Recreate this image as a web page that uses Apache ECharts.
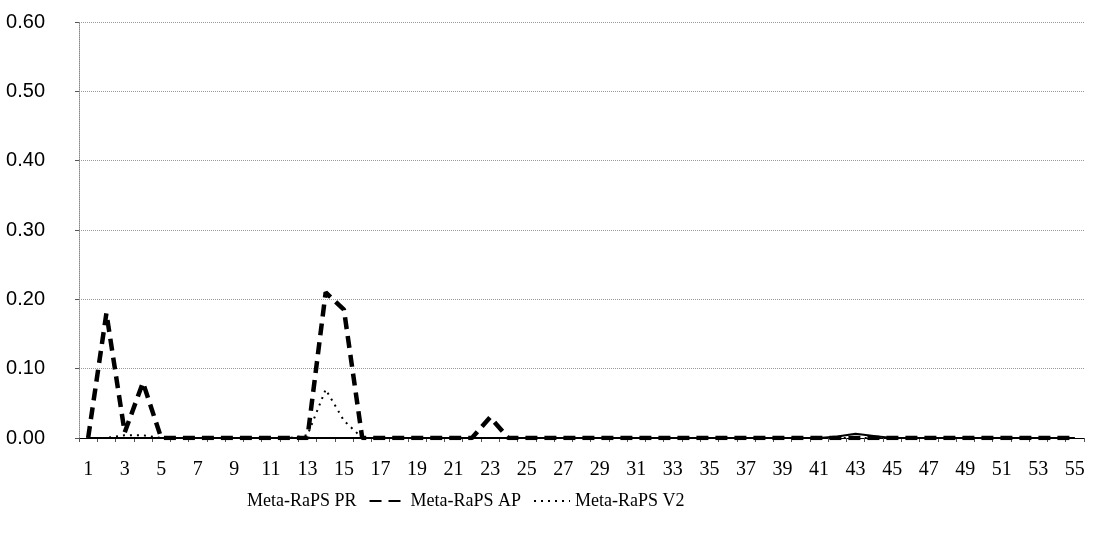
<!DOCTYPE html>
<html><head><meta charset="utf-8">
<script src="https://cdn.jsdelivr.net/npm/echarts@6/dist/echarts.min.js"></script>
<style>html,body{margin:0;padding:0;background:#fff}#c{width:1099px;height:540px}</style>
</head><body><div id="c"></div>
<script>
var categories = [];
for (var i = 1; i <= 55; i++) categories.push(String(i));
var seriesNames = ['Meta-RaPS PR', 'Meta-RaPS AP', 'Meta-RaPS V2'];
var prValues = [0,0,0,0,0,0,0,0,0,0, 0,0,0,0,0,0,0,0,0,0, 0,0,0,0,0,0,0,0,0,0, 0,0,0,0,0,0,0,0,0,0, 0,0.002,0.006,0.003,0,0,0,0,0,0, 0,0,0,0,0];
var apValues = [0,0.18,0.008,0.08,0,0,0,0,0,0, 0,0,0,0.21,0.185,0,0,0,0,0, 0,0,0.03,0,0,0,0,0,0,0, 0,0,0,0,0,0,0,0,0,0, 0,0,0,0,0,0,0,0,0,0, 0,0,0,0,0];
var v2Values = [0,0,0.004,0.004,0,0,0,0,0,0, 0,0,0.004,0.07,0.025,0,0,0,0,0, 0,0,0,0,0,0,0,0,0,0, 0,0,0,0,0,0,0,0,0,0, 0,0,0,0,0,0,0,0,0,0, 0,0,0,0,0];
var yTicks = ['0.00','0.10','0.20','0.30','0.40','0.50','0.60'];

var chart = echarts.init(document.getElementById('c'));
chart.setOption({
  animation: false,
  backgroundColor: '#fff',
  grid: { left: 79, right: 15, top: 22, bottom: 102 },
  legend: {
    bottom: 25,
    left: 200,
    itemWidth: 36,
    itemHeight: 10,
    itemGap: 12,
    textStyle: { fontFamily: 'Liberation Serif', fontSize: 18, color: '#000' },
    data: [
      { name: seriesNames[0], itemStyle: { opacity: 0 }, lineStyle: { opacity: 0 } },
      { name: seriesNames[1], itemStyle: { opacity: 0 } },
      { name: seriesNames[2], itemStyle: { opacity: 0 } }
    ]
  },
  xAxis: {
    type: 'category',
    data: categories,
    boundaryGap: true,
    axisLine: { lineStyle: { color: '#000', width: 1 } },
    axisTick: { show: true, length: 4, interval: 0, lineStyle: { color: '#555' } },
    axisLabel: { interval: 1, margin: 22, fontFamily: 'Liberation Serif', fontSize: 20, color: '#000' },
    splitLine: { show: false }
  },
  yAxis: {
    type: 'value',
    min: 0, max: 0.6, interval: 0.1,
    axisLine: { show: true, lineStyle: { color: '#888', type: 'dotted', width: 1 } },
    axisTick: { show: true, length: 4, lineStyle: { color: '#555' } },
    axisLabel: {
      margin: 34, fontFamily: 'Liberation Sans', fontSize: 20, color: '#000',
      formatter: function (v) { return yTicks[Math.round(v * 10)]; }
    },
    splitLine: { show: true, lineStyle: { color: '#999', type: 'dotted', width: 1 } }
  },
  series: [
    { name: seriesNames[0], type: 'line', data: prValues, symbol: 'none',
      lineStyle: { color: '#000', width: 2, type: 'solid' }, itemStyle: { color: '#000' }, z: 3 },
    { name: seriesNames[1], type: 'line', data: apValues, symbol: 'none',
      lineStyle: { color: '#000', width: 4.5, type: [12, 7] }, itemStyle: { color: '#000' }, z: 4 },
    { name: seriesNames[2], type: 'line', data: v2Values, symbol: 'none',
      lineStyle: { color: '#000', width: 2, type: [2, 5] }, itemStyle: { color: '#000' }, z: 5 }
  ]
});
</script>
</body></html>
